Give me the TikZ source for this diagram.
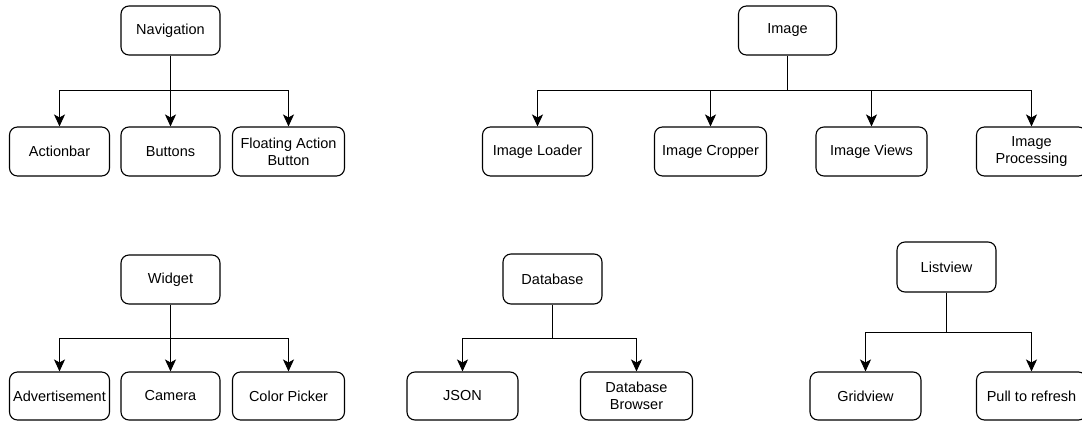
\documentclass[tikz,border=0pt]{standalone}
\usepackage{fontspec}
\setmainfont{Liberation Sans}
\usetikzlibrary{arrows.meta}
\begin{document}
\begin{tikzpicture}[x=1pt,y=-1pt,
  box/.style={draw=black, line width=1.1pt, rounded corners=8pt, fill=white,
    minimum height=49pt, inner sep=1pt, align=center,
    font=\fontsize{14.5}{17}\selectfont},
  arr/.style={draw=black, line width=1.1pt, -{Stealth[length=12pt,width=11pt,inset=3pt]}},
  ln/.style={draw=black, line width=1.1pt}]
\useasboundingbox (0,0) rectangle (1082,421);
\clip (0,0) rectangle (1082,421);
% Navigation
\node[box, minimum width=99pt] (nav) at (170.5,30.5) {Navigation};
\node[box, minimum width=100pt] (act) at (59.5,151.5) {Actionbar};
\node[box, minimum width=99pt] (btn) at (170.5,151.5) {Buttons};
\node[box, minimum width=112pt] (fab) at (288.5,151.5) {Floating Action\\Button};
\coordinate (navbus) at (170.5,90.5);
\draw[arr] (nav.south) -- (btn.north);
\draw[arr] (navbus) -| (act.north);
\draw[arr] (navbus) -| (fab.north);
% Image
\node[box, minimum width=98pt] (img) at (787.5,30.5) {Image};
\node[box, minimum width=110pt] (ild) at (537.5,151.5) {Image Loader};
\node[box, minimum width=112pt] (icr) at (710.5,151.5) {Image Cropper};
\node[box, minimum width=111pt] (ivw) at (871.5,151.5) {Image Views};
\node[box, minimum width=110pt] (ipr) at (1031.5,151.5) {Image\\Processing};
\coordinate (imgbus) at (787.5,90.5);
\draw[ln] (img.south) -- (imgbus);
\draw[arr] (imgbus) -| (ild.north);
\draw[arr] (imgbus) -| (icr.north);
\draw[arr] (imgbus) -| (ivw.north);
\draw[arr] (imgbus) -| (ipr.north);
% Widget
\node[box, minimum width=99pt] (wid) at (170.5,279.5) {Widget};
\node[box, minimum width=100pt, minimum height=48pt] (adv) at (59.5,396) {Advertisement};
\node[box, minimum width=99pt, minimum height=48pt] (cam) at (170.5,396) {Camera};
\node[box, minimum width=112pt, minimum height=48pt] (col) at (288.5,396) {Color Picker};
\coordinate (widbus) at (170.5,338.5);
\draw[arr] (wid.south) -- (cam.north);
\draw[arr] (widbus) -| (adv.north);
\draw[arr] (widbus) -| (col.north);
% Database
\node[box, minimum width=99pt, minimum height=50pt] (db) at (552.5,279) {Database};
\node[box, minimum width=111pt, minimum height=48pt] (json) at (462.5,396) {JSON};
\node[box, minimum width=112pt, minimum height=48pt] (dbb) at (636.5,396) {Database\\Browser};
\coordinate (dbbus) at (552.5,338.5);
\draw[ln] (db.south) -- (dbbus);
\draw[arr] (dbbus) -| (json.north);
\draw[arr] (dbbus) -| (dbb.north);
% Listview
\node[box, minimum width=99pt, minimum height=50pt] (lv) at (946.5,267) {Listview};
\node[box, minimum width=111pt, minimum height=48pt] (grid) at (865.5,396) {Gridview};
\node[box, minimum width=110pt, minimum height=48pt] (pull) at (1031.5,396) {Pull to refresh};
\coordinate (lvbus) at (946.5,332.5);
\draw[ln] (lv.south) -- (lvbus);
\draw[arr] (lvbus) -| (grid.north);
\draw[arr] (lvbus) -| (pull.north);
\end{tikzpicture}
\end{document}
